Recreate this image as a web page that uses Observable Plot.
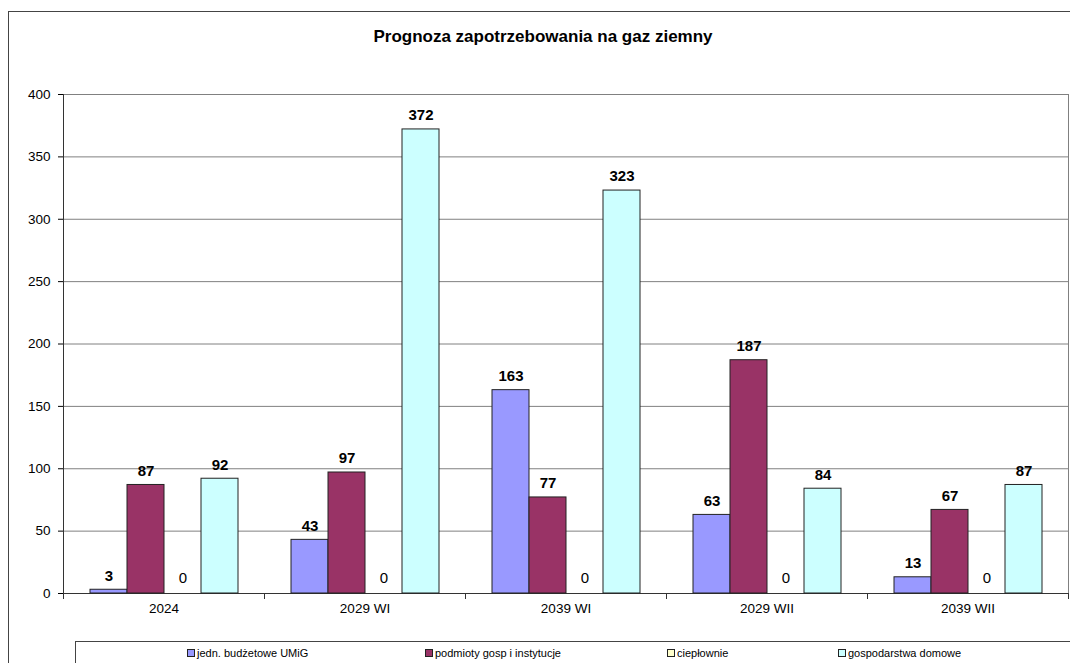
<!DOCTYPE html>
<html><head><meta charset="utf-8">
<script src="https://cdn.jsdelivr.net/npm/d3@7"></script>
<script src="https://cdn.jsdelivr.net/npm/@observablehq/plot@0.6"></script>
<style>
body{margin:0;background:#fff;font-family:"Liberation Sans",Arial,sans-serif;}
#wrap{position:relative;width:1070px;height:663px;overflow:hidden;background:#fff;}
#border{position:absolute;left:8px;top:11px;width:1100px;height:700px;border:1px solid #444;}
#title{position:absolute;left:8px;width:1070px;top:27px;text-align:center;font-weight:bold;font-size:17px;color:#000;}
#chart{position:absolute;left:0;top:0;}
#legend{position:absolute;left:75px;top:641px;width:1100px;height:60px;border:1px solid #444;background:#fff;}
.item{position:absolute;top:5px;font-size:11px;color:#000;white-space:nowrap;}
.sw{display:inline-block;width:6px;height:6px;border:1px solid #222;margin-right:2px;vertical-align:0px;}
</style></head>
<body>
<div id="wrap">
  <div id="border"></div>
  <div id="title">Prognoza zapotrzebowania na gaz ziemny</div>
  <div id="chart"></div>
  <div id="legend"></div>
</div>
<script>
const groups = ["2024", "2029 WI", "2039 WI", "2029 WII", "2039 WII"];
const series = ["jedn. budżetowe UMiG", "podmioty gosp i instytucje", "ciepłownie", "gospodarstwa domowe"];
const jednostki = [3, 43, 163, 63, 13];
const podmioty = [87, 97, 77, 187, 67];
const cieplownie = [0, 0, 0, 0, 0];
const gospodarstwa = [92, 372, 323, 84, 87];
const yTicks = [0, 50, 100, 150, 200, 250, 300, 350, 400];
const colors = ["#9999FF", "#993366", "#FFFFCC", "#CCFFFF"];
const legendLeft = [111, 349, 591, 762];

const seriesValues = [jednostki, podmioty, cieplownie, gospodarstwa];
const data = [];
groups.forEach((g, i) => series.forEach((s, j) => data.push({group: g, series: s, value: seriesValues[j][i]})));

const chart = Plot.plot({
  width: 1070,
  height: 625,
  marginLeft: 63,
  marginRight: 2,
  marginTop: 94,
  marginBottom: 32,
  style: {fontFamily: "'Liberation Sans', Arial, sans-serif", color: "#000", background: "transparent", overflow: "visible"},
  fx: {domain: groups, padding: 0, label: null, axis: null},
  x: {domain: series, paddingInner: 0, paddingOuter: 0.716, axis: null},
  y: {domain: [0, 400], label: null, axis: null},
  color: {domain: series, range: colors},
  marks: [
    Plot.ruleY(yTicks, {y: d => d, stroke: "#808080", strokeWidth: 1}),
    Plot.frame({anchor: "right", facetAnchor: "right", stroke: "#808080"}),
    Plot.frame({anchor: "left", facetAnchor: "left", stroke: "#333"}),
    Plot.frame({anchor: "left", insetTop: 499, insetBottom: -5, stroke: "#333"}),
    Plot.frame({anchor: "right", facetAnchor: "right", insetTop: 499, insetBottom: -5, stroke: "#333"}),
    Plot.ruleY([0], {stroke: "#333"}),
    Plot.barY(data, {fx: "group", x: "series", y: "value", fill: "series", stroke: "#222", strokeWidth: 1}),
    Plot.text(data.filter(d => d.value > 0), {fx: "group", x: "series", y: "value", text: d => String(d.value), dy: -14, fontSize: 15, fontWeight: "bold", fill: "#000"}),
    Plot.text(data.filter(d => d.value === 0), {fx: "group", x: "series", y: "value", text: d => String(d.value), dy: -15, fontSize: 15, fill: "#000"}),
    Plot.axisY({ticks: yTicks, tickSize: 5, tickPadding: 8, fontSize: 13.5, label: null}),
    Plot.axisFx({anchor: "bottom", tickSize: 0, tickPadding: 10, fontSize: 13.5, label: null})
  ]
});
document.getElementById("chart").appendChild(chart);

const legend = document.getElementById("legend");
series.forEach((s, j) => {
  const it = document.createElement("div");
  it.className = "item";
  it.style.left = legendLeft[j] + "px";
  it.innerHTML = `<span class="sw" style="background:${colors[j]}"></span>`;
  it.appendChild(document.createTextNode(s));
  legend.appendChild(it);
});
</script>
</body></html>
